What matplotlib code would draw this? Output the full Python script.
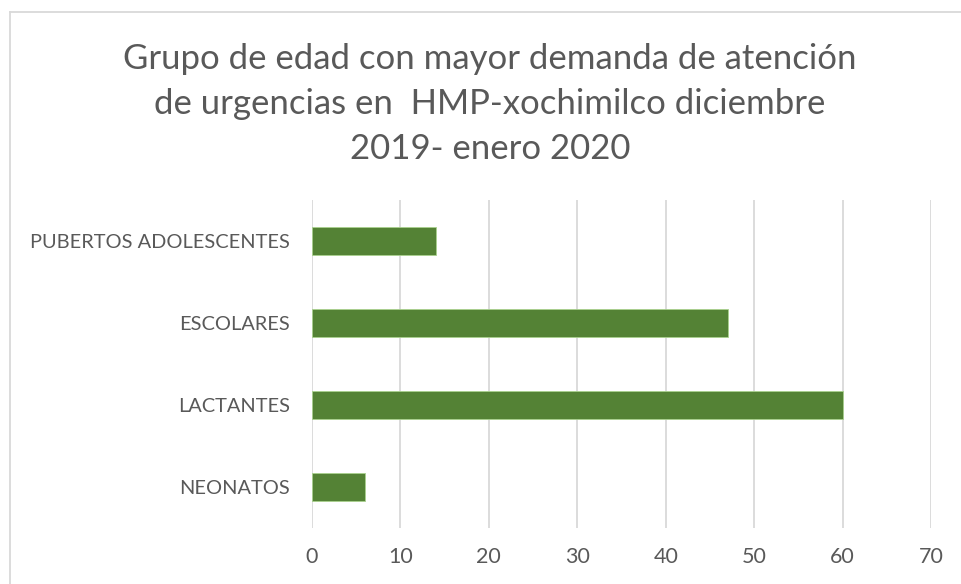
import matplotlib
matplotlib.use('Agg')
import matplotlib.pyplot as plt
from matplotlib.lines import Line2D

# data
categories = ['NEONATOS', 'LACTANTES', 'ESCOLARES', 'PUBERTOS ADOLESCENTES']
values = [6, 60, 47, 14]
xticks = [0, 10, 20, 30, 40, 50, 60, 70]

title = ('Grupo de edad con mayor demanda de atención\n'
         'de urgencias en  HMP-xochimilco diciembre\n'
         '2019- enero 2020')

plt.rcParams['font.family'] = ['Lato', 'DejaVu Sans']
text_col = '#595959'

fig = plt.figure(figsize=(9.61, 5.84), dpi=100)
ax = fig.add_axes([312/961, 1-528/584, (931-312)/961, (528-200)/584])

ax.barh(range(len(categories)), values, height=0.34, color='#548235',
        edgecolor='#a9d18e', linewidth=0.6, zorder=3)

ax.set_xlim(0, 70)
ax.set_ylim(-0.5, len(categories) - 0.5)
ax.set_xticks(xticks)
ax.set_yticks(range(len(categories)))
ax.set_yticklabels(categories)
ax.tick_params(axis='both', length=0, labelsize=14.4, colors=text_col)
ax.tick_params(axis='x', labelsize=15.5, pad=14)
ax.tick_params(axis='y', pad=16)
ax.grid(axis='x', color='#d9d9d9', linewidth=1.3, zorder=0)
for s in ax.spines.values():
    s.set_visible(False)

fig.text(490/961, 1-104/584, title, ha='center', va='center', fontsize=25,
         color=text_col, linespacing=1.5)

# chart border (only top and left edges are visible)
fig.add_artist(Line2D([9.5/961, 1], [1-11.5/584, 1-11.5/584],
                      color='#d9d9d9', linewidth=1.3, transform=fig.transFigure))
fig.add_artist(Line2D([9.5/961, 9.5/961], [0, 1-11.5/584],
                      color='#d9d9d9', linewidth=1.3, transform=fig.transFigure))

fig.savefig('out.png', dpi=100)
